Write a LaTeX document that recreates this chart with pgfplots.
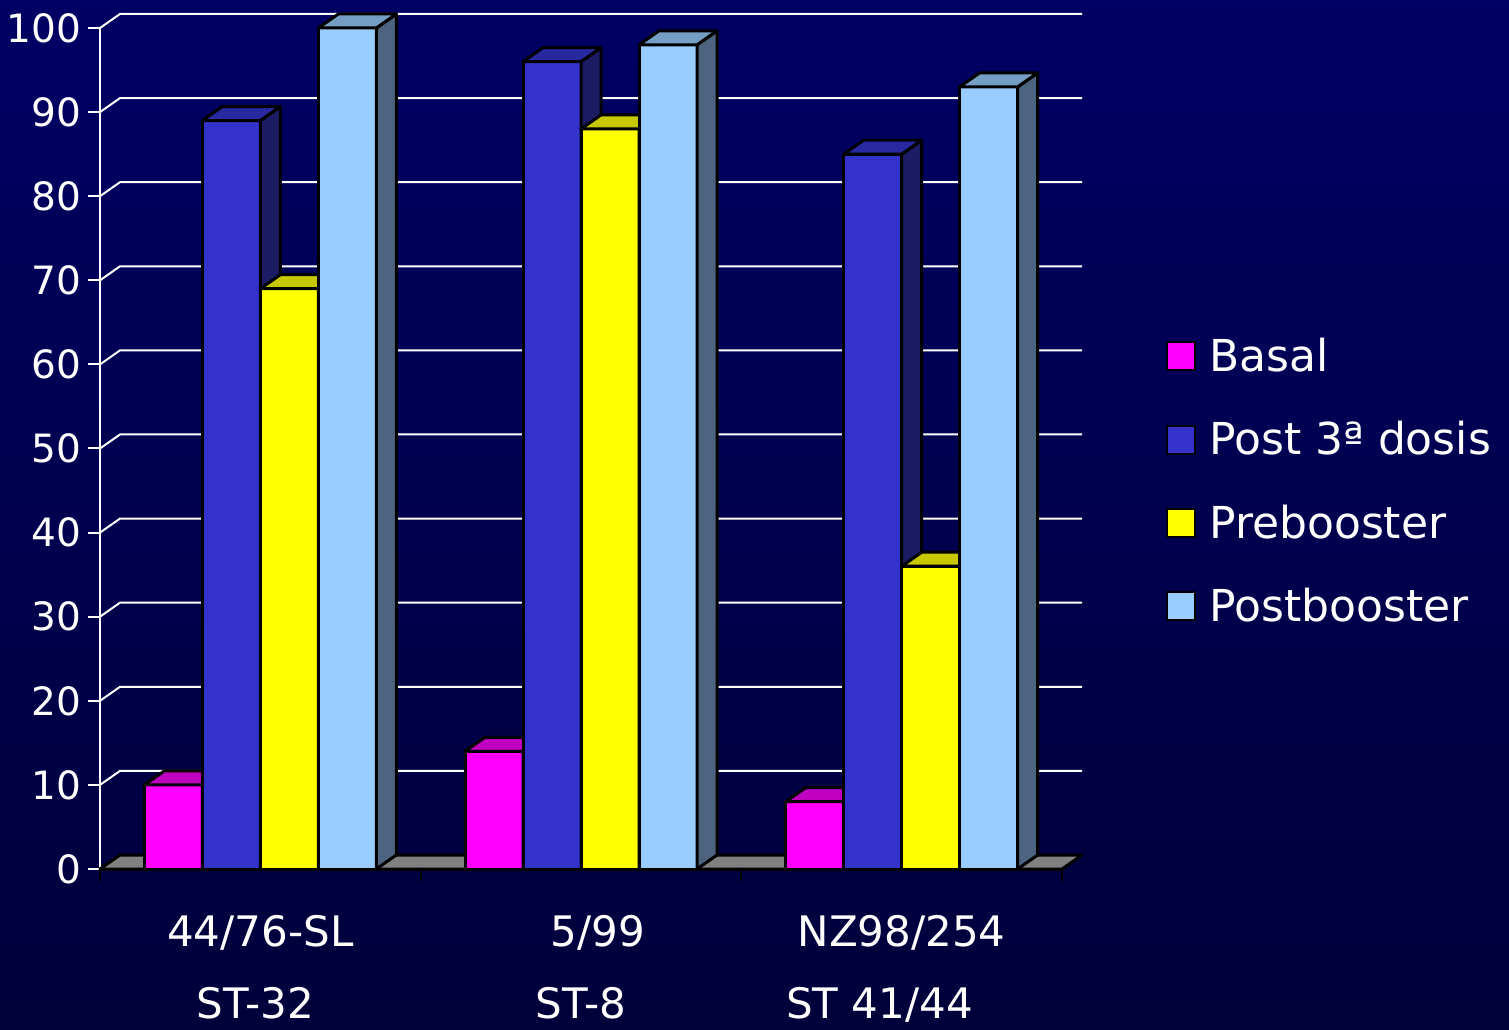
\documentclass[border=0pt]{standalone}
\usepackage{pgfplots}
\pgfplotsset{compat=1.18}
\usepackage{pgfplotstable}
\usepackage{fontspec}
\setmainfont{DejaVu Sans}

\definecolor{bgtop}{RGB}{0,0,100}
\definecolor{bgbot}{RGB}{0,0,58}
\definecolor{basalF}{RGB}{255,0,255}
\definecolor{basalT}{RGB}{192,0,192}
\definecolor{basalS}{RGB}{128,0,128}
\definecolor{postF}{RGB}{51,51,204}
\definecolor{postT}{RGB}{40,40,160}
\definecolor{postS}{RGB}{28,28,100}
\definecolor{preF}{RGB}{255,255,0}
\definecolor{preT}{RGB}{200,200,0}
\definecolor{preS}{RGB}{128,128,0}
\definecolor{pbF}{RGB}{153,204,255}
\definecolor{pbT}{RGB}{116,158,196}
\definecolor{pbS}{RGB}{77,100,128}
\definecolor{floorC}{RGB}{128,128,128}

\pgfdeclareplotmark{top3d}{%
 \pgfpathmoveto{\pgfqpoint{-14.5pt}{0pt}}%
 \pgfpathlineto{\pgfqpoint{14.5pt}{0pt}}%
 \pgfpathlineto{\pgfqpoint{24.5pt}{7pt}}%
 \pgfpathlineto{\pgfqpoint{-4.5pt}{7pt}}%
 \pgfpathclose\pgfusepathqfillstroke}
\pgfdeclareplotmark{side3d}{%
 \pgfmathsetlengthmacro\hh{\hval*4.205pt}%
 \pgfpathmoveto{\pgfqpoint{14.5pt}{0pt}}%
 \pgfpathlineto{\pgfqpoint{24.5pt}{7pt}}%
 \pgfpathlineto{\pgfpoint{24.5pt}{7pt-\hh}}%
 \pgfpathlineto{\pgfpoint{14.5pt}{-\hh}}%
 \pgfpathclose\pgfusepathqfillstroke}

\pgfplotstableread{
x basal post pre postb
0 10 89 69 100
1 14 96 88 98
2 8 85 36 93
}\data

\newcommand\xfont{\fontsize{21}{24}\selectfont}
\newcommand\yfont{\fontsize{19.5}{23}\selectfont}
\newcommand\lfont{\fontsize{22}{26}\selectfont}

\begin{document}
\begin{tikzpicture}
\shade[top color=bgtop, bottom color=bgbot] (0,0) rectangle (754.5pt,514.5pt);
\path[use as bounding box] (0,0) rectangle (754.5pt,514.5pt);
\begin{axis}[
 at={(50pt,80pt)}, anchor=south west,
 x=160.333pt, y=4.205pt,
 xmin=-0.5, xmax=2.5, ymin=0, ymax=100,
 clip=false, clip mode=individual,
 axis x line*=bottom, axis y line*=left,
 x axis line style={black, line width=1.5pt, -},
 y axis line style={white, line width=1pt, -},
 xtick={-0.5,0.5,1.5,2.5},
 x tick label as interval,
 xticklabels={{44/76-SL\\[12pt]\makebox[0pt]{ST-32\kern5pt}},{\makebox[0pt]{\kern17pt 5/99}\\[12pt]\makebox[0pt]{ST-8}},{NZ98/254\\[12pt]\makebox[0pt]{ST 41/44\kern22pt}}},
 xticklabel style={align=center, yshift=-13.5pt, font=\xfont},
 yticklabel style={font=\yfont},
 ytick={0,10,...,100},
 tick align=outside,
 major tick length=6pt,
 x tick style={black, line width=1pt},
 y tick style={white, line width=1pt},
 tick label style={text=white},
 /pgf/number format/assume math mode=true,
 every axis plot/.append style={line join=round},
 legend cell align=left,
 legend style={at={(1.108,0.461)}, anchor=west, draw=none, fill=none, text=white, font=\lfont, row sep=19.5pt, column sep=4.5pt, inner sep=0pt},
]
\pgfplotsinvokeforeach{10,20,30,40,50,60,70,80,90,100}{
 \draw[white, line width=1pt] (axis cs:-0.5,#1) -- ++(10pt,7pt) -- ([shift={(10pt,7pt)}]axis cs:2.5,#1);
}
\filldraw[fill=floorC, draw=black, line width=1.5pt, line join=round] (axis cs:-0.5,0) -- (axis cs:2.5,0) -- ++(10pt,7pt) -- ([shift={(10pt,7pt)}]axis cs:-0.5,0) -- cycle;

% Basal
\addplot[ybar, bar width=29pt, bar shift=0pt, fill=basalF, draw=black, line width=1.5pt,
 legend image code/.code={\draw[line width=1pt] (0pt,-7pt) rectangle (14pt,7pt);}]
 table[x expr=\thisrow{x}-0.27131, y=basal]{\data};
\addlegendentry{Basal}
\addplot[forget plot, only marks, scatter, scatter/use mapped color={draw=black, fill=basalS}, mark=side3d, line width=1.5pt,
 visualization depends on={rawy\as\hval}]
 table[x expr=\thisrow{x}-0.27131, y=basal]{\data};
\addplot[forget plot, only marks, mark=top3d, mark options={fill=basalT, draw=black}, line width=1.5pt]
 table[x expr=\thisrow{x}-0.27131, y=basal]{\data};

% Post 3a dosis
\addplot[ybar, bar width=29pt, bar shift=0pt, fill=postF, draw=black, line width=1.5pt,
 legend image code/.code={\draw[line width=1pt] (0pt,-7pt) rectangle (14pt,7pt);}]
 table[x expr=\thisrow{x}-0.09044, y=post]{\data};
\addlegendentry{Post 3ª dosis}
\addplot[forget plot, only marks, scatter, scatter/use mapped color={draw=black, fill=postS}, mark=side3d, line width=1.5pt,
 visualization depends on={rawy\as\hval}]
 table[x expr=\thisrow{x}-0.09044, y=post]{\data};
\addplot[forget plot, only marks, mark=top3d, mark options={fill=postT, draw=black}, line width=1.5pt]
 table[x expr=\thisrow{x}-0.09044, y=post]{\data};

% Prebooster
\addplot[ybar, bar width=29pt, bar shift=0pt, fill=preF, draw=black, line width=1.5pt,
 legend image code/.code={\draw[line width=1pt] (0pt,-7pt) rectangle (14pt,7pt);}]
 table[x expr=\thisrow{x}+0.09044, y=pre]{\data};
\addlegendentry{Prebooster}
\addplot[forget plot, only marks, scatter, scatter/use mapped color={draw=black, fill=preS}, mark=side3d, line width=1.5pt,
 visualization depends on={rawy\as\hval}]
 table[x expr=\thisrow{x}+0.09044, y=pre]{\data};
\addplot[forget plot, only marks, mark=top3d, mark options={fill=preT, draw=black}, line width=1.5pt]
 table[x expr=\thisrow{x}+0.09044, y=pre]{\data};

% Postbooster
\addplot[ybar, bar width=29pt, bar shift=0pt, fill=pbF, draw=black, line width=1.5pt,
 legend image code/.code={\draw[line width=1pt] (0pt,-7pt) rectangle (14pt,7pt);}]
 table[x expr=\thisrow{x}+0.27131, y=postb]{\data};
\addlegendentry{Postbooster}
\addplot[forget plot, only marks, scatter, scatter/use mapped color={draw=black, fill=pbS}, mark=side3d, line width=1.5pt,
 visualization depends on={rawy\as\hval}]
 table[x expr=\thisrow{x}+0.27131, y=postb]{\data};
\addplot[forget plot, only marks, mark=top3d, mark options={fill=pbT, draw=black}, line width=1.5pt]
 table[x expr=\thisrow{x}+0.27131, y=postb]{\data};
\end{axis}
\end{tikzpicture}
\end{document}
